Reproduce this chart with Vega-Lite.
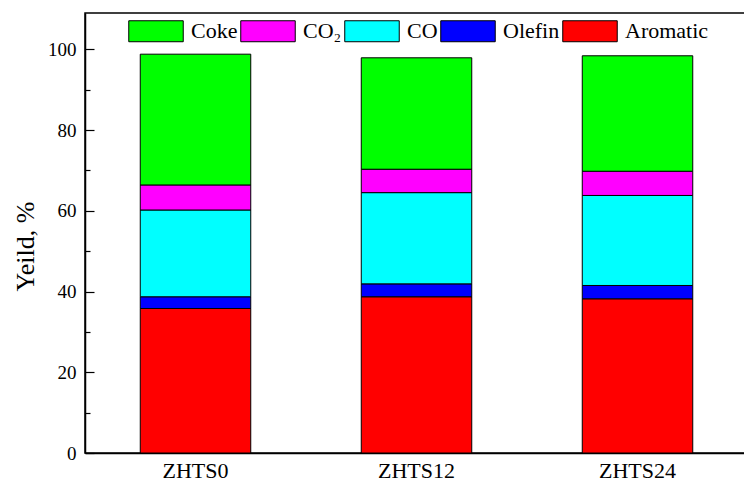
{
  "$schema": "https://vega.github.io/schema/vega-lite/v6.json",
  "autosize": "none",
  "padding": {"left": 85, "top": 13, "right": 0, "bottom": 30},
  "width": 663,
  "height": 440,
  "background": "white",
  "config": {
    "view": {"stroke": "black", "strokeWidth": 1.5},
    "font": "Liberation Serif"
  },
  "data": {
    "values": [
      {"sample": "ZHTS0", "product": "Aromatic", "o": 1, "yield": 35.8},
      {"sample": "ZHTS0", "product": "Olefin", "o": 2, "yield": 2.9},
      {"sample": "ZHTS0", "product": "CO", "o": 3, "yield": 21.5},
      {"sample": "ZHTS0", "product": "CO₂", "o": 4, "yield": 6.2},
      {"sample": "ZHTS0", "product": "Coke", "o": 5, "yield": 32.4},
      {"sample": "ZHTS12", "product": "Aromatic", "o": 1, "yield": 38.7},
      {"sample": "ZHTS12", "product": "Olefin", "o": 2, "yield": 3.2},
      {"sample": "ZHTS12", "product": "CO", "o": 3, "yield": 22.6},
      {"sample": "ZHTS12", "product": "CO₂", "o": 4, "yield": 5.8},
      {"sample": "ZHTS12", "product": "Coke", "o": 5, "yield": 27.6},
      {"sample": "ZHTS24", "product": "Aromatic", "o": 1, "yield": 38.2},
      {"sample": "ZHTS24", "product": "Olefin", "o": 2, "yield": 3.3},
      {"sample": "ZHTS24", "product": "CO", "o": 3, "yield": 22.3},
      {"sample": "ZHTS24", "product": "CO₂", "o": 4, "yield": 6.0},
      {"sample": "ZHTS24", "product": "Coke", "o": 5, "yield": 28.6}
    ]
  },
  "mark": {"type": "bar", "stroke": "black", "strokeWidth": 1, "opacity": 1},
  "encoding": {
    "x": {
      "field": "sample",
      "type": "nominal",
      "sort": null,
      "scale": {"paddingInner": 0.5, "paddingOuter": 0.25},
      "axis": {
        "title": null,
        "labelAngle": 0,
        "labelFont": "Liberation Serif",
        "labelFontSize": 22,
        "labelColor": "black",
        "labelPadding": 11,
        "tickSize": -4,
        "tickColor": "black",
        "domainColor": "black",
        "domainWidth": 1.5,
        "grid": false
      }
    },
    "y": {
      "field": "yield",
      "type": "quantitative",
      "stack": "zero",
      "scale": {"domain": [0, 109], "nice": false, "zero": true},
      "axis": {
        "title": "Yeild, %",
        "titleFont": "Liberation Serif",
        "titleFontSize": 26,
        "titleFontWeight": "normal",
        "titleColor": "black",
        "titlePadding": 9,
        "titleY": 233,
        "values": [0, 10, 20, 30, 40, 50, 60, 70, 80, 90, 100],
        "labelExpr": "datum.value % 20 === 0 ? datum.label : ''",
        "labelFont": "Liberation Serif",
        "labelFontSize": 19,
        "labelColor": "black",
        "labelPadding": 18,
        "tickSize": {"condition": {"test": "datum.value % 20 === 0", "value": -9}, "value": -5},
        "tickColor": "black",
        "tickWidth": 1.2,
        "domainColor": "black",
        "domainWidth": 1.5,
        "grid": false
      }
    },
    "color": {
      "field": "product",
      "type": "nominal",
      "scale": {
        "domain": ["Coke", "CO₂", "CO", "Olefin", "Aromatic"],
        "range": ["#00FF00", "#FF00FF", "#00FFFF", "#0000FF", "#FF0000"]
      },
      "legend": {
        "title": null,
        "orient": "none",
        "direction": "horizontal",
        "legendX": 43,
        "legendY": -10,
        "padding": 0,
        "symbolType": "M-1,-0.385H1V0.385H-1Z",
        "symbolSize": 2970,
        "symbolStrokeColor": "black",
        "symbolStrokeWidth": 1,
        "symbolOpacity": 1,
        "labelFont": "Liberation Serif",
        "labelFontSize": 22,
        "labelColor": "black",
        "labelOffset": 7,
        "columnPadding": 0
      }
    },
    "order": {"field": "o", "type": "quantitative", "sort": "ascending"}
  }
}
